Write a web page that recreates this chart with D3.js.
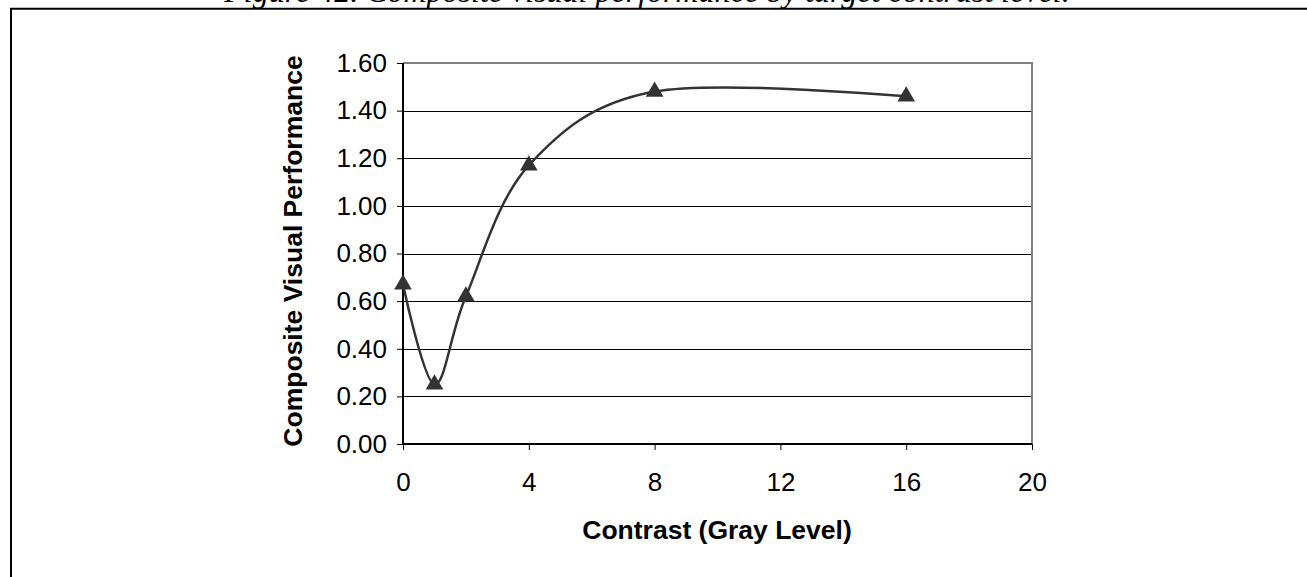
<!DOCTYPE html>
<html><head><meta charset="utf-8">
<script src="https://cdn.jsdelivr.net/npm/d3@7"></script>
<style>body{margin:0;background:#fff;} svg{display:block;}</style>
</head><body>
<svg id="c" width="1307" height="577"></svg>
<script>
const contrast = [0, 1, 2, 4, 8, 16];
const performance = [0.67, 0.25, 0.62, 1.17, 1.48, 1.46];
const xTicks = [0, 4, 8, 12, 16, 20];
const yTicks = [0, 0.2, 0.4, 0.6, 0.8, 1.0, 1.2, 1.4, 1.6];
const titleText = "Figure 42. Composite visual performance by target contrast level.";
const xTitle = "Contrast (Gray Level)";
const yTitle = "Composite Visual Performance";

const svg = d3.select("#c");
const L = 403, R = 1032, T = 63, B = 444;
const x = d3.scaleLinear().domain([0, 20]).range([L, R]);
const y = d3.scaleLinear().domain([0, 1.6]).range([B, T]);

// page frame
svg.append("text").attr("x", 647).attr("y", 2).attr("text-anchor", "middle")
  .attr("font-family", "Liberation Serif").attr("font-style", "italic").attr("font-size", 32)
  .text(titleText);
svg.append("line").attr("x1", 10).attr("x2", 1307).attr("y1", 8.8).attr("y2", 8.8).attr("stroke", "#000").attr("stroke-width", 2);
svg.append("line").attr("x1", 11).attr("x2", 11).attr("y1", 8).attr("y2", 577).attr("stroke", "#000").attr("stroke-width", 2);

// gridlines
svg.append("g").selectAll("line").data(yTicks.filter(d => d > 0 && d < 1.6)).join("line")
  .attr("x1", L).attr("x2", R).attr("y1", d => Math.round(y(d)) + 0.5).attr("y2", d => Math.round(y(d)) + 0.5)
  .attr("stroke", "#000").attr("stroke-width", 1);
// plot border top/right gray
svg.append("path").attr("d", `M${L},${T}H${R}V${B}`).attr("fill", "none").attr("stroke", "#808080").attr("stroke-width", 2);

// axes
const yAxis = d3.axisLeft(y).tickValues(yTicks).tickFormat(d3.format(".2f")).tickSize(6).tickPadding(10);
const gy = svg.append("g").attr("transform", `translate(${L},0)`).call(yAxis);
const xAxis = d3.axisBottom(x).tickValues(xTicks).tickFormat(d3.format("d")).tickSize(6).tickPadding(23);
const gx = svg.append("g").attr("transform", `translate(0,${B})`).call(xAxis);
[gx, gy].forEach(g => {
  g.select(".domain").attr("stroke", "#000").attr("stroke-width", 2);
  g.selectAll(".tick line").attr("stroke", "#000").attr("stroke-width", 1);
  g.selectAll(".tick text").attr("font-family", "Liberation Sans").attr("font-size", 26).attr("fill", "#000");
});
gy.select(".domain").attr("d", `M0,${T}V${B}`);
gx.select(".domain").attr("d", `M${L},0H${R}`);

// titles
svg.append("text").attr("x", 717).attr("y", 539).attr("text-anchor", "middle")
  .attr("font-family", "Liberation Sans").attr("font-weight", "bold").attr("font-size", 26.5).text(xTitle);
svg.append("text").attr("transform", `translate(302,251) rotate(-90)`).attr("text-anchor", "middle")
  .attr("font-family", "Liberation Sans").attr("font-weight", "bold").attr("font-size", 26.5).text(yTitle);

// line
const pts = contrast.map((c, i) => [c, performance[i]]);
const line = d3.line().x(d => x(d[0])).y(d => y(d[1])).curve(d3.curveCardinal.tension(0));
svg.append("path").datum(pts).attr("d", line).attr("fill", "none").attr("stroke", "#333").attr("stroke-width", 2.5);

// markers
const tri = d3.symbol().type(d3.symbolTriangle).size(135);
svg.append("g").selectAll("path").data(pts).join("path")
  .attr("transform", d => `translate(${x(d[0])},${y(d[1])})`).attr("d", tri).attr("fill", "#333");
</script>
</body></html>
